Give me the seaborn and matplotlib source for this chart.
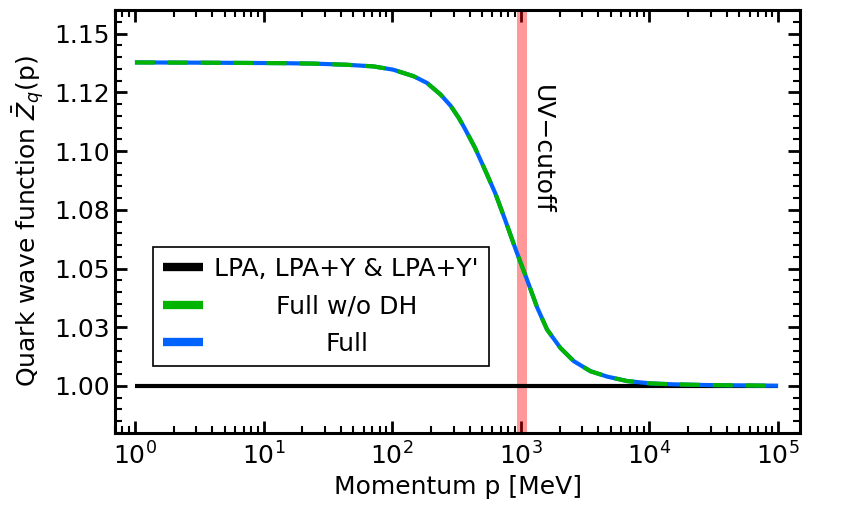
import pandas as pd
import matplotlib
matplotlib.use('Agg')
import matplotlib.pyplot as plt
import seaborn as sns
from matplotlib.lines import Line2D
from matplotlib.ticker import MultipleLocator, LogLocator, FixedLocator, FixedFormatter

# values
momentum = [1, 3, 13.4, 24.4, 44.4, 71.6, 102, 147, 186, 237, 285, 330, 363, 439,
            529, 634, 757, 916, 1104, 1337, 1600, 2030, 2575, 3473, 4688, 6712,
            10190, 15460, 28120, 100000]
z_full = [1.1377, 1.1376, 1.1374, 1.1372, 1.1367, 1.1360, 1.1346, 1.1318, 1.1290,
          1.1241, 1.1192, 1.1140, 1.1100, 1.1015, 1.0917, 1.0819, 1.0705, 1.0578,
          1.0460, 1.0335, 1.0240, 1.0162, 1.0106, 1.0063, 1.0040, 1.0021, 1.0011,
          1.0007, 1.0004, 1.0001]
z_full_wo_dh = list(z_full)
z_lpa = [1.0] * len(momentum)

labels = ["LPA, LPA+Y & LPA+Y'", "Full w/o DH", "Full"]
ytick_vals = [1.00, 1.025, 1.05, 1.075, 1.10, 1.125, 1.15]
ytick_labels = ['1.00', '1.03', '1.05', '1.08', '1.10', '1.12', '1.15']
uv_band = (935, 1120)

df = pd.DataFrame({'p': momentum, 'lpa': z_lpa, 'full': z_full, 'wodh': z_full_wo_dh})

sns.set_style('ticks')
plt.rcParams['font.family'] = ['DejaVu Sans']
plt.rcParams['font.size'] = 18
plt.rcParams['lines.solid_capstyle'] = 'butt'
plt.rcParams['lines.dash_capstyle'] = 'butt'
for key in ['text.color', 'axes.labelcolor', 'xtick.color', 'ytick.color']:
    plt.rcParams[key] = 'black'

green = '#00b400'
blue = '#0062ff'

fig = plt.figure(figsize=(8.5, 5.14), dpi=100)
ax = fig.add_axes([0.1353, 0.1576, 0.8059, 0.8229])

ax.axvspan(*uv_band, color='red', alpha=0.4, lw=0, zorder=1)
sns.lineplot(data=df, x='p', y='lpa', ax=ax, color='black', lw=3, zorder=3)
sns.lineplot(data=df, x='p', y='full', ax=ax, color=blue, lw=3, zorder=4)
sns.lineplot(data=df, x='p', y='wodh', ax=ax, color=green, lw=3,
             linestyle=(0, (4.8, 3.1)), zorder=5)

ax.set_xscale('log')
ax.set_xlim(0.7, 1.48e5)
ax.set_ylim(0.98, 1.16)
ax.xaxis.set_major_locator(LogLocator(base=10, numticks=10))
ax.xaxis.set_minor_locator(LogLocator(base=10, subs=range(2, 10), numticks=20))
ax.yaxis.set_major_locator(FixedLocator(ytick_vals))
ax.yaxis.set_major_formatter(FixedFormatter(ytick_labels))
ax.yaxis.set_minor_locator(MultipleLocator(0.005))

ax.tick_params(which='both', direction='in', top=True, right=True, labelsize=18)
ax.tick_params(which='major', length=8.5, width=2)
ax.tick_params(which='minor', length=5, width=1.5)
ax.tick_params(axis='x', which='major', pad=7)
for s in ax.spines.values():
    s.set_visible(True)
    s.set_color('black')
    s.set_linewidth(2.2)

ax.set_xlabel('Momentum p [MeV]', fontsize=18)
ax.set_ylabel(r'Quark wave function $\bar{Z}_q$(p)', fontsize=18, labelpad=6)

ax.text(1445, 1.1006, 'UV\u2212cutoff', rotation=-90, fontsize=18,
        ha='center', va='center')

handles = [Line2D([], [], color='black', lw=6),
           Line2D([], [], color=green, lw=6),
           Line2D([], [], color=blue, lw=6)]
leg = ax.legend(handles, labels, loc='lower left', bbox_to_anchor=(0.0555, 0.158),
                borderaxespad=0, fontsize=18, handlelength=1.6, handletextpad=0.45,
                labelspacing=0.55, fancybox=False, edgecolor='black', framealpha=1)
leg.get_frame().set_linewidth(1.2)

# centre the legend labels in their column
fig.canvas.draw()
renderer = fig.canvas.get_renderer()
widths = [t.get_window_extent(renderer).width for t in leg.get_texts()]
for t, w in zip(leg.get_texts(), widths):
    t.set_position(((max(widths) - w) / 2, 0))

fig.savefig('out.png', dpi=100)
